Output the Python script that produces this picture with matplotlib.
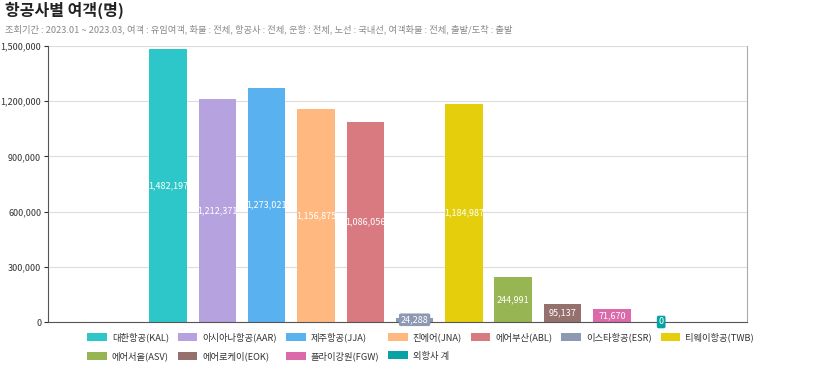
import matplotlib
matplotlib.use("Agg")
import matplotlib.pyplot as plt
import matplotlib.ticker as ticker
from matplotlib.patches import Patch

plt.rcParams["font.family"] = ["Noto Sans CJK KR", "DejaVu Sans"]

# ── Data ──────────────────────────────
airlines = ["대한항공(KAL)", "아시아나항공(AAR)", "제주항공(JJA)", "진에어(JNA)",
            "에어부산(ABL)", "이스타항공(ESR)", "티웨이항공(TWB)", "에어서울(ASV)",
            "에어로케이(EOK)", "플라이강원(FGW)", "외항사 계"]
passengers = [1482197, 1212371, 1273021, 1156875, 1086056, 24288,
              1184987, 244991, 95137, 71670, 0]
colors = ["#2EC7C9", "#B6A2DE", "#5AB1EF", "#FFB980", "#D87A80", "#8D98B3",
          "#E5CF0D", "#97B552", "#95706D", "#DC69AA", "#07A2A4"]
yticks = [0, 300000, 600000, 900000, 1200000, 1500000]

title = "항공사별 여객(명)"
subtitle = ("조회기간 : 2023.01 ~ 2023.03, 여객 : 유임여객, 화물 : 전체, 항공사 : 전체, 운항 : 전체, "
            "노선 : 국내선, 여객화물 : 전체, 출발/도착 : 출발")

fig = plt.figure(figsize=(8.3, 3.68), dpi=100)
ax = fig.add_axes([0.058, 0.125, 0.842, 0.75])

x = list(range(len(airlines)))
ax.bar(x, passengers, width=0.76, color=colors, zorder=2)

# labels sit at mid-height; tiny bars get a coloured box behind the text
for xi, val, c in zip(x, passengers, colors):
    box = dict(boxstyle="round,pad=0.2", fc=c, ec="none") if val < 50000 else None
    ax.text(xi, val / 2, f"{val:,}", ha="center", va="center", fontsize=6.5,
            color="white", zorder=3, bbox=box)

ax.set_xlim(-2.43, 11.74)
ax.set_ylim(0, 1500000)
ax.set_yticks(yticks)
ax.yaxis.set_major_formatter(ticker.FuncFormatter(lambda v, p: f"{int(v):,}"))
ax.tick_params(axis="y", labelsize=6.5, colors="#333333", length=3, width=0.8, pad=2)
ax.set_xticks([])
ax.grid(axis="y", color="#dddddd", linewidth=0.8, zorder=0)

ax.spines["top"].set_visible(False)
ax.spines["left"].set_color("#555555")
ax.spines["bottom"].set_color("#555555")
ax.spines["right"].set_color("#aaaaaa")

fig.text(0.006, 0.972, title, fontsize=11.5, fontweight="bold", color="#222222",
         va="center", ha="left")
fig.text(0.006, 0.921, subtitle, fontsize=6.7, color="#888888", va="center", ha="left")

# legend fills column-wise, so reorder to read row by row
order = [0, 7, 1, 8, 2, 9, 3, 10, 4, 5, 6]
handles = [Patch(facecolor=colors[i], edgecolor="none") for i in order]
labels = [airlines[i] for i in order]
fig.legend(handles, labels, loc="upper left", bbox_to_anchor=(0.095, 0.12),
           ncol=7, frameon=False, fontsize=6.7, handlelength=2.1, handleheight=0.95,
           columnspacing=0.95, handletextpad=0.55, labelspacing=1.0, labelcolor="#333333")

plt.savefig("out.png", dpi=100)
plt.close()
